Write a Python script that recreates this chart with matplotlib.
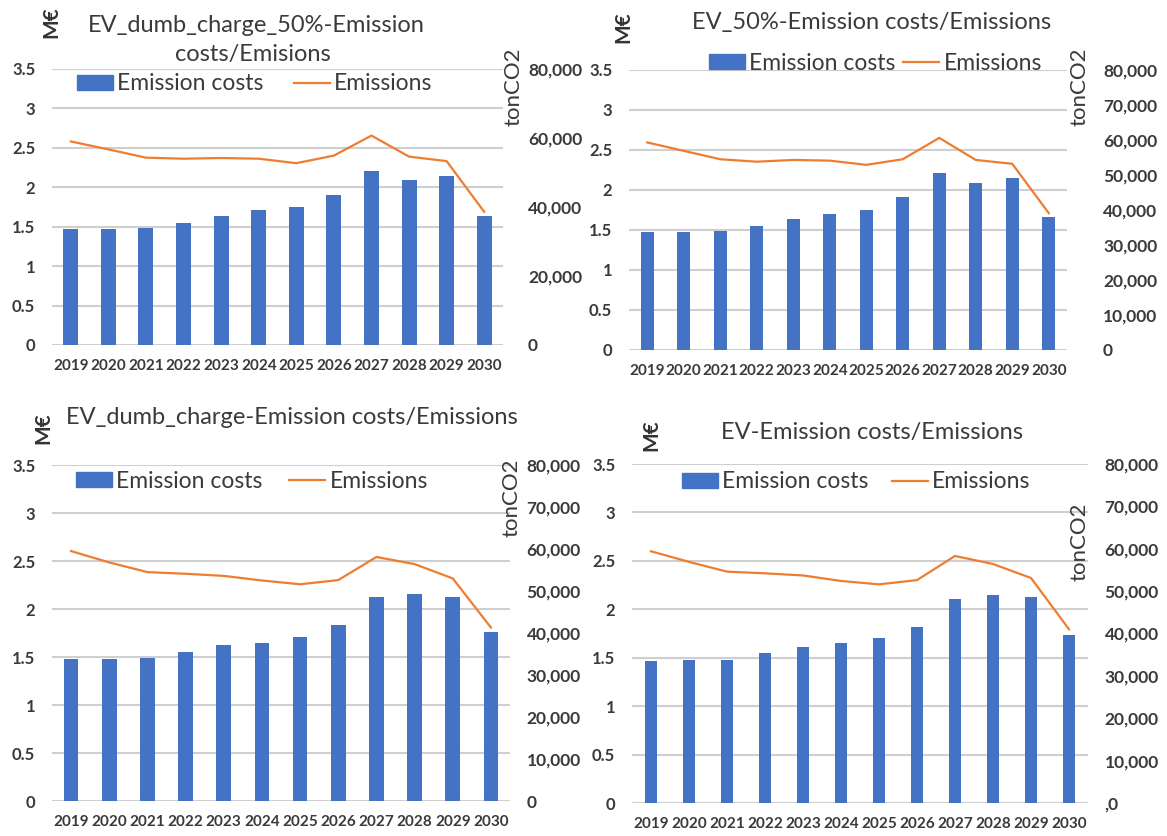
import numpy as np
import matplotlib.pyplot as plt
from matplotlib.patches import Patch
from matplotlib.lines import Line2D

years = [str(y) for y in range(2019, 2031)]

# EV_dumb_charge_50%
costs_dumb50 = [1.47, 1.47, 1.48, 1.55, 1.64, 1.71, 1.75, 1.90, 2.21, 2.09, 2.14, 1.64]
emis_dumb50 = [59000, 56700, 54300, 54000, 54200, 54000, 52700, 54900, 60700, 54600, 53300, 38600]

# EV_50%
costs_ev50 = [1.47, 1.48, 1.49, 1.55, 1.64, 1.70, 1.75, 1.91, 2.21, 2.09, 2.15, 1.66]
emis_ev50 = [59300, 56900, 54500, 53800, 54300, 54100, 52900, 54500, 60600, 54300, 53200, 39100]

# EV_dumb_charge
costs_dumb = [1.48, 1.48, 1.49, 1.55, 1.62, 1.65, 1.71, 1.83, 2.12, 2.16, 2.12, 1.76]
emis_dumb = [59500, 56800, 54500, 54100, 53600, 52500, 51600, 52600, 58100, 56400, 53000, 41300]

# EV
costs_ev = [1.47, 1.48, 1.48, 1.55, 1.61, 1.65, 1.70, 1.82, 2.11, 2.15, 2.13, 1.73]
emis_ev = [59400, 56900, 54600, 54200, 53700, 52400, 51600, 52600, 58300, 56400, 53100, 41000]

left_ticks = [0, 0.5, 1, 1.5, 2, 2.5, 3, 3.5]
left_labels = ["0", "0.5", "1", "1.5", "2", "2.5", "3", "3.5"]

BLUE = "#4472C4"
ORANGE = "#ED7D31"
GREY = "#3A3A3A"
GRID = "#CFCFCF"

plt.rcParams["font.family"] = ["Lato", "DejaVu Sans"]

W, H = 1167, 836
fig = plt.figure(figsize=(W / 100, H / 100), dpi=100)
LEG_FS = 16.5
fs_px = LEG_FS * 100 / 72


def fx(x):
    return x / W


def fy(y):
    return 1 - y / H


def panel(box, costs, emis, bar_w, right_ticks, right_pad, leg, zero_label="0"):
    x0, y0, x1, y1 = box
    ax = fig.add_axes([fx(x0), fy(y1), (x1 - x0) / W, (y1 - y0) / H])
    x = np.arange(len(years))
    ax.bar(x, costs, width=bar_w, color=BLUE, zorder=3)
    ax.set_xlim(-0.5, len(years) - 0.5)
    ax.set_ylim(0, 3.5)
    ax.set_yticks(left_ticks)
    ax.set_yticklabels(left_labels)
    ax.set_xticks(x)
    ax.set_xticklabels(years)
    ax.grid(axis="y", color=GRID, lw=1.5, zorder=0)
    ax.tick_params(axis="y", length=0, pad=12, labelsize=12, labelcolor=GREY)
    ax.tick_params(axis="x", length=0, pad=10, labelsize=11, labelcolor=GREY)
    for lbl in ax.get_xticklabels() + ax.get_yticklabels():
        lbl.set_fontweight("bold")
    for s in ax.spines.values():
        s.set_visible(False)

    ax2 = ax.twinx()
    ax2.plot(x, emis, color=ORANGE, lw=1.6, zorder=4)
    ax2.set_ylim(0, 80000)
    ax2.set_yticks(right_ticks)
    ax2.set_yticklabels([zero_label if t == 0 else f"{t:,}" for t in right_ticks])
    ax2.tick_params(axis="y", length=0, pad=right_pad, labelsize=12.5, labelcolor=GREY)
    for lbl in ax2.get_yticklabels():
        lbl.set_fontweight("bold")
    for s in ax2.spines.values():
        s.set_visible(False)

    lx, ly, colsp = leg
    handles = [Patch(color=BLUE, label="Emission costs"),
               Line2D([], [], color=ORANGE, lw=1.6, label="Emissions")]
    ax2.legend(handles=handles, ncol=2, loc="center left",
               bbox_to_anchor=(fx(lx), fy(ly)), bbox_transform=fig.transFigure,
               frameon=False, fontsize=LEG_FS, labelcolor=GREY,
               handlelength=36 / fs_px, handleheight=14 / fs_px,
               handletextpad=4 / fs_px, columnspacing=colsp / fs_px,
               borderpad=0, borderaxespad=0)
    return ax


all_right = list(range(0, 80001, 10000))

panel((52, 69, 503, 345), costs_dumb50, emis_dumb50, 0.40,
      [0, 20000, 40000, 60000, 80000], 18, (77, 84, 31))
panel((629, 70, 1067, 350), costs_ev50, emis_ev50, 0.36,
      all_right, 26, (709, 63, 8))
panel((52, 465, 510, 801), costs_dumb, emis_dumb, 0.38,
      all_right, 12, (76, 481, 27))
panel((632, 464, 1088, 803), costs_ev, emis_ev, 0.31,
      all_right, 12, (682, 482, 24), zero_label=",0")

# titles
TFS = 17
fig.text(fx(256), fy(25), "EV_dumb_charge_50%-Emission", ha="center", va="center",
         fontsize=TFS, color=GREY)
fig.text(fx(253), fy(55), "costs/Emisions", ha="center", va="center",
         fontsize=TFS, color=GREY)
fig.text(fx(872), fy(22), "EV_50%-Emission costs/Emissions", ha="center", va="center",
         fontsize=TFS, color=GREY)
fig.text(fx(292), fy(417), "EV_dumb_charge-Emission costs/Emissions", ha="center",
         va="center", fontsize=TFS, color=GREY)
fig.text(fx(872), fy(432), "EV-Emission costs/Emissions", ha="center", va="center",
         fontsize=TFS, color=GREY)

# axis units
for (xm, ym) in [(51, 22), (623, 27), (43, 428), (651, 435)]:
    fig.text(fx(xm), fy(ym), "M€", rotation=90, ha="center", va="center",
             fontsize=15, fontweight="bold", color="#333333")
for (xt, yt) in [(513, 87), (1080, 87), (511, 498), (1080, 542)]:
    fig.text(fx(xt), fy(yt), "tonCO2", rotation=90, ha="center", va="center",
             fontsize=16, color=GREY)

fig.savefig("out.png", dpi=100)
